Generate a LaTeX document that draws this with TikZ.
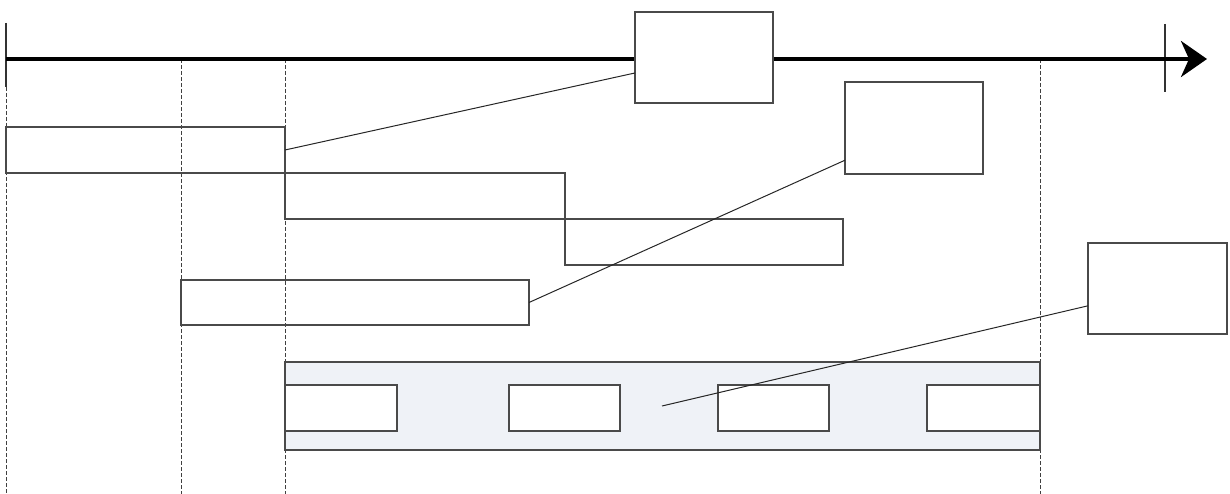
\documentclass[tikz,border=0pt]{standalone}
\usetikzlibrary{arrows.meta,calc}
\definecolor{edgegray}{HTML}{4A4A4A}
\definecolor{barfill}{HTML}{EFF2F7}
\begin{document}
\begin{tikzpicture}[x=1pt,y=-1pt,
  boxshape/.style={draw=edgegray,line width=1.1pt,inner sep=0pt,outer sep=0pt,fill=white},
  barshape/.style={draw=edgegray,line width=1.1pt,inner sep=0pt,outer sep=0pt,minimum height=46pt},
  guide/.style={draw=black!75,line width=0.7pt,dash pattern=on 4pt off 2pt},
  link/.style={draw=black!85,line width=1pt}]
\useasboundingbox (0,0) rectangle (1230,494);
% guide lines
\coordinate (g0t) at (6,87); \coordinate (g0b) at (6,494);
\coordinate (g1t) at (181,59); \coordinate (g1b) at (181,494);
\coordinate (g2t) at (285,59); \coordinate (g2b) at (285,494);
\coordinate (g3t) at (1040,59); \coordinate (g3b) at (1040,494);
\draw[guide] (g0t) -- (g0b);
\draw[guide] (g1t) -- (g1b);
\draw[guide] (g2t) -- (g2b);
\draw[guide] (g3t) -- (g3b);
% axis
\coordinate (ax0) at (6,59); \coordinate (ax1) at (1207,59);
\coordinate (t0a) at (6,23); \coordinate (t0b) at (6,87);
\coordinate (t1a) at (1165,24); \coordinate (t1b) at (1165,92);
\draw[line width=1.1pt,black!80] (t0a) -- (t0b);
\draw[line width=1.1pt,black!80] (t1a) -- (t1b);
\draw[line width=4pt,-{Stealth[length=26pt,width=36pt,inset=8pt]}] (ax0) -- (ax1);
% staircase bars
\node[barshape,minimum width=279pt] (bar1) at (145.5,150) {};
\node[barshape,minimum width=280pt] (bar2) at (425,196) {};
\node[barshape,minimum width=278pt] (bar3) at (704,242) {};
\node[barshape,minimum width=348pt,minimum height=45pt] (bar4) at (355,302.5) {};
% shaded band
\node[draw=edgegray,line width=1.1pt,fill=barfill,inner sep=0pt,minimum width=755pt,minimum height=88pt] (band) at (662.5,406) {};
\node[boxshape,minimum width=112pt,minimum height=46pt] (in1) at (341,408) {};
\node[boxshape,minimum width=111pt,minimum height=46pt] (in2) at (564.5,408) {};
\node[boxshape,minimum width=111pt,minimum height=46pt] (in3) at (773.5,408) {};
\node[boxshape,minimum width=113pt,minimum height=46pt] (in4) at (983.5,408) {};
% callout boxes
\node[boxshape,minimum width=138pt,minimum height=91pt] (A) at (704,57.5) {};
\node[boxshape,minimum width=138pt,minimum height=92pt] (B) at (914,128) {};
\node[boxshape,minimum width=139pt,minimum height=91pt] (C) at (1157.5,288.5) {};
% connectors
\coordinate (bandpt) at (662,406);
\draw[link] (bar1.east) -- ($(A.north west)!0.67!(A.south west)$);
\draw[link] (bar4.east) -- ($(B.north west)!0.85!(B.south west)$);
\draw[link] (bandpt) -- ($(C.north west)!0.69!(C.south west)$);
\end{tikzpicture}
\end{document}
